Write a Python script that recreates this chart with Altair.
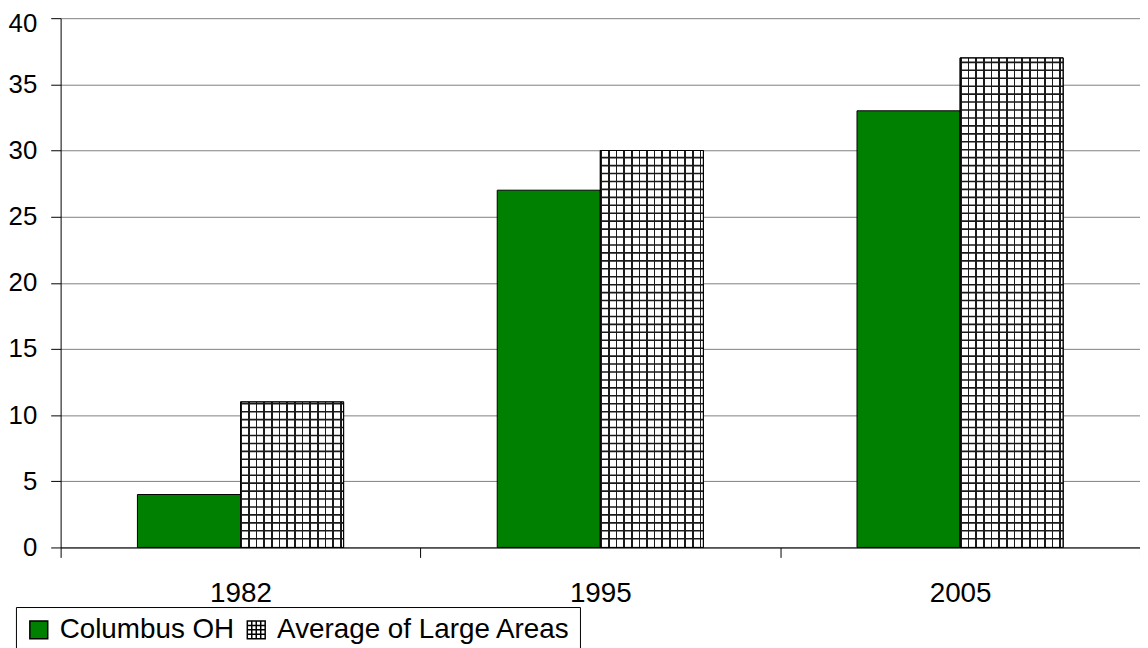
import altair as alt
import pandas as pd

years = ["1982", "1995", "2005"]
series_names = ["Columbus OH", "Average of Large Areas"]
columbus = [4, 27, 33]
average = [11, 30, 37]
y_ticks = [0, 5, 10, 15, 20, 25, 30, 35, 40]

GREEN = "#008000"
FONT = "Liberation Sans"

rows = []
for yr, c, a in zip(years, columbus, average):
    rows.append({"year": yr, "series": series_names[0], "value": c})
    rows.append({"year": yr, "series": series_names[1], "value": a})
df = pd.DataFrame(rows)

# horizontal strokes of the cross-hatch pattern inside the "Average" bars
HATCH = 0.6
hrows = []
for yr, a in zip(years, average):
    k = 1
    while k * HATCH < a - 0.1:
        hrows.append({"year": yr, "series": series_names[1],
                      "pos": k * HATCH, "pos2": k * HATCH + 0.12})
        k += 1
hdf = pd.DataFrame(hrows)

# vertical strokes of the cross-hatch pattern (gradient across bar width)
period = 7.67 / 103.5
lw = 1.7 / 103.5
stops = []
k = 0
while k * period < 1:
    a = k * period
    b = min(a + lw, 1)
    c = min((k + 1) * period, 1)
    stops += [{"offset": a, "color": "#1a1a1a"}, {"offset": b, "color": "#1a1a1a"},
              {"offset": b, "color": "#ffffff"}, {"offset": c, "color": "#ffffff"}]
    k += 1
hatch_fill = {"gradient": "linear", "x1": 0, "x2": 1, "y1": 0, "y2": 0, "stops": stops}

hatch_symbol = ("M-1,-1H1V1H-1Z M-0.5,-1V1 M0,-1V1 M0.5,-1V1 "
                "M-1,-0.5H1 M-1,0H1 M-1,0.5H1")

x_enc = alt.X("year:N",
              scale=alt.Scale(domain=years, paddingInner=0, paddingOuter=0),
              axis=alt.Axis(title=None, labelAngle=0, tickBand="extent", grid=False,
                            tickSize=10, labelPadding=22, labelFontSize=28,
                            labelFont=FONT, labelColor="black",
                            domainColor="black", tickColor="black"))
xo_enc = alt.XOffset("series:N",
                     scale=alt.Scale(domain=series_names, paddingInner=0,
                                     paddingOuter=0.745))
y_scale = alt.Scale(domain=[0, 40], nice=False)
y_axis = alt.Axis(
    title=None, values=y_ticks, grid=True, gridColor="#808080",
    gridWidth=1, tickSize=10, labelPadding=14, labelFontSize=26,
    labelFont=FONT, labelColor="black", domainColor="black", tickColor="black",
    labelBaseline={"condition": {"test": "datum.value == 40", "value": "top"},
                   "value": "middle"},
    labelOffset={"condition": {"test": "datum.value == 40", "value": -8},
                 "value": 0},
)

base = alt.Chart(df).encode(x=x_enc, xOffset=xo_enc,
                            y=alt.Y("value:Q", scale=y_scale, axis=y_axis))

col_bar = base.transform_filter(alt.datum.series == series_names[0]).mark_bar(
    fill=GREEN, stroke="black", strokeWidth=1)
avg_bar = base.transform_filter(alt.datum.series == series_names[1]).mark_bar(
    fill=hatch_fill, stroke="black", strokeWidth=1)
hatch_h = alt.Chart(hdf).mark_bar(color="#1a1a1a").encode(
    x=x_enc, xOffset=xo_enc,
    y=alt.Y("pos:Q", scale=y_scale, axis=y_axis), y2="pos2:Q")
avg_outline = base.transform_filter(alt.datum.series == series_names[1]).mark_bar(
    fillOpacity=0, stroke="black", strokeWidth=1)

leg = alt.Legend(title=None, orient="none", legendX=-45, legendY=593,
                 direction="horizontal", labelLimit=0)
legend_pts = base.mark_point(filled=True, opacity=0, stroke="black",
                             strokeWidth=1.5).encode(
    color=alt.Color("series:N",
                    scale=alt.Scale(domain=series_names, range=[GREEN, "white"]),
                    legend=leg),
    shape=alt.Shape("series:N",
                    scale=alt.Scale(domain=series_names, range=["square", hatch_symbol]),
                    legend=leg),
)

chart = alt.layer(col_bar, avg_bar, hatch_h, avg_outline, legend_pts).properties(
    width=1087, height=533,
    autosize=alt.AutoSizeParams(type="none"),
    padding={"left": 53, "top": 8, "right": 0, "bottom": 99},
).configure_view(stroke=None).configure_legend(
    labelFontSize=28, labelFont=FONT, labelColor="black",
    symbolSize=324, symbolStrokeWidth=1.5,
    symbolOpacity=1, strokeColor="black", padding=9, labelOffset=7,
    columnPadding=8, cornerRadius=0, fillColor="white", labelLimit=0,
)

chart.save("out.html", embed_options={"renderer": "svg", "actions": False})
